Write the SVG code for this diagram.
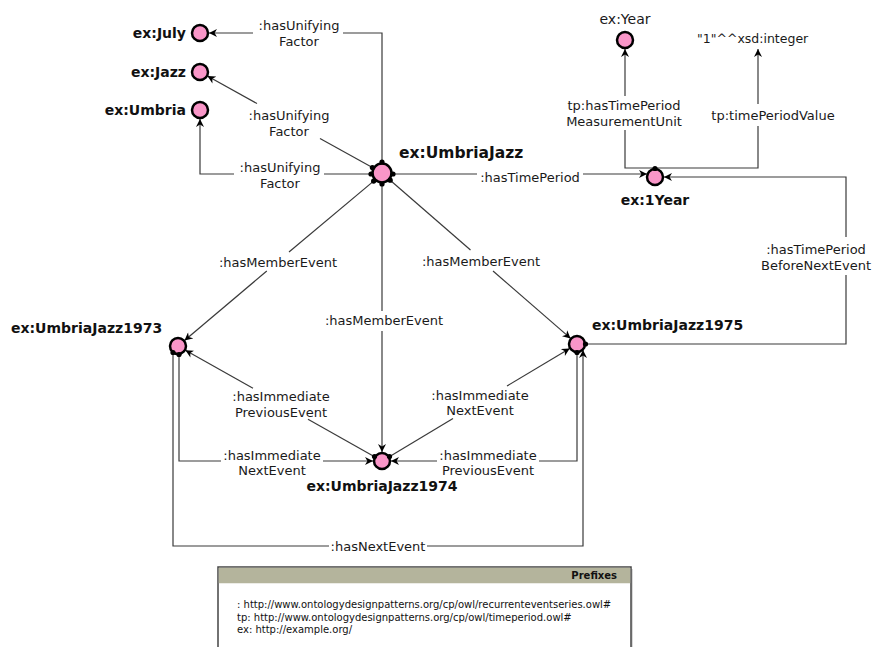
<svg xmlns="http://www.w3.org/2000/svg" width="875" height="647" viewBox="0 0 875 647">
<style>
.e{fill:none;stroke:#3a3a3a;stroke-width:1.2}
.a{marker-end:url(#arr)}
.n{fill:#f996c8;stroke:#000;stroke-width:2.5}
.d{fill:#000}
.l{font-family:"DejaVu Sans",sans-serif;font-size:13px;fill:#1a1a1a;text-anchor:middle}
.b{font-family:"DejaVu Sans",sans-serif;font-size:14px;font-weight:bold;fill:#111}
.t{font-family:"DejaVu Sans",sans-serif;font-size:10px;fill:#111}
</style>
<defs>
<marker id="arr" viewBox="0 0 10 10" refX="10" refY="5" markerWidth="9" markerHeight="8" markerUnits="userSpaceOnUse" orient="auto">
<path d="M0,0 L10,5 L0,10 L3,5 z" fill="#000"/>
</marker>
</defs>
<rect width="875" height="647" fill="#fff"/>

<g id="connectors">
<!-- UmbriaJazz -> July -->
<path class="e" d="M382,162 V33 H343"/>
<path class="e a" d="M253,33 H209"/>
<text class="l" x="299" y="30">:hasUnifying</text><text class="l" x="299" y="46">Factor</text>
<!-- UmbriaJazz -> Jazz -->
<path class="e" d="M372.4,167.6 L320,138.6"/>
<path class="e a" d="M257,103.6 L207.4,76.1"/>
<text class="l" x="289" y="120">:hasUnifying</text><text class="l" x="289" y="136">Factor</text>
<!-- UmbriaJazz -> Umbria -->
<path class="e" d="M371,174 H324"/>
<path class="e a" d="M234,174 H200 V119"/>
<text class="l" x="280" y="172">:hasUnifying</text><text class="l" x="280" y="188">Factor</text>
<!-- UmbriaJazz -> 1Year -->
<path class="e" d="M393,174 H477"/>
<path class="e a" d="M583,174 H647"/>
<text class="l" x="530" y="182">:hasTimePeriod</text>
<!-- 1Year -> Year -->
<path class="e" d="M655,168 H625 V130"/>
<path class="e a" d="M625,96 V49"/>
<text class="l" x="624" y="110">tp:hasTimePeriod</text><text class="l" x="624" y="126">MeasurementUnit</text>
<!-- 1Year -> "1" -->
<path class="e" d="M655,168 H758 V126"/>
<path class="e a" d="M758,104 V49"/>
<text class="l" x="773" y="120">tp:timePeriodValue</text>
<!-- 1975 -> 1Year -->
<path class="e" d="M585,344 H846 V275"/>
<path class="e a" d="M846,237 V177 H664"/>
<text class="l" x="816" y="254">:hasTimePeriod</text><text class="l" x="816" y="270">BeforeNextEvent</text>
<!-- UmbriaJazz -> 1973 -->
<path class="e" d="M373.6,181.1 L289,252"/>
<path class="e a" d="M266.8,271 L184.5,340.5"/>
<text class="l" x="278" y="267">:hasMemberEvent</text>
<!-- UmbriaJazz -> 1974 -->
<path class="e" d="M382,184 V311"/>
<path class="e a" d="M382,331 V452"/>
<text class="l" x="384" y="325">:hasMemberEvent</text>
<!-- UmbriaJazz -> 1975 -->
<path class="e" d="M390.2,180.2 L470.5,250"/>
<path class="e a" d="M493,271 L570.6,338.4"/>
<text class="l" x="481" y="266">:hasMemberEvent</text>
<!-- 1974 -> 1973 -->
<path class="e" d="M375,457.1 L308,419.3"/>
<path class="e a" d="M253,388.3 L185.4,350.2"/>
<text class="l" x="281" y="401">:hasImmediate</text><text class="l" x="281" y="417">PreviousEvent</text>
<!-- 1974 -> 1975 -->
<path class="e" d="M388.9,456.9 L453,418.4"/>
<path class="e a" d="M507,386 L569.7,348.4"/>
<text class="l" x="480" y="400">:hasImmediate</text><text class="l" x="480" y="415">NextEvent</text>
<!-- 1973 -> 1974 -->
<path class="e" d="M179,354 V461 H221"/>
<path class="e a" d="M323,461 H373"/>
<text class="l" x="272" y="460">:hasImmediate</text><text class="l" x="272" y="475">NextEvent</text>
<!-- 1975 -> 1974 -->
<path class="e" d="M577,352 V461 H539"/>
<path class="e a" d="M437,461 H391"/>
<text class="l" x="488" y="460">:hasImmediate</text><text class="l" x="488" y="475">PreviousEvent</text>
<!-- 1973 -> 1975 -->
<path class="e" d="M173,352 V546 H329"/>
<path class="e a" d="M427,546 H583 V350"/>
<text class="l" x="378" y="551">:hasNextEvent</text>
</g>

<g id="n-July"><circle class="n" cx="200" cy="33" r="8"/><text class="b" x="186" y="38" text-anchor="end">ex:July</text></g>
<g id="n-Jazz"><circle class="n" cx="200" cy="72" r="8"/><text class="b" x="186" y="77" text-anchor="end">ex:Jazz</text></g>
<g id="n-Umbria"><circle class="n" cx="200" cy="110" r="8"/><text class="b" x="186" y="115" text-anchor="end">ex:Umbria</text></g>
<g id="n-UmbriaJazz">
<circle class="n" cx="382" cy="173" r="9.5"/>
<circle class="d" cx="382" cy="162" r="2.6"/>
<circle class="d" cx="372.4" cy="167.6" r="2.6"/>
<circle class="d" cx="371" cy="174" r="2.6"/>
<circle class="d" cx="373.6" cy="181.1" r="2.6"/>
<circle class="d" cx="382" cy="184" r="2.6"/>
<circle class="d" cx="390.2" cy="180.2" r="2.6"/>
<circle class="d" cx="393" cy="174" r="2.6"/>
<text class="b" x="399" y="158" style="font-size:15.5px">ex:UmbriaJazz</text>
</g>
<g id="n-Year"><circle class="n" cx="625" cy="40" r="8"/><text class="l" x="625" y="24" style="font-size:14px">ex:Year</text></g>
<g id="n-literal"><text class="l" x="697" y="43" style="text-anchor:start;font-size:12.5px">"1"^^xsd:integer</text></g>
<g id="n-1Year">
<circle class="n" cx="655" cy="177" r="8"/>
<circle class="d" cx="655" cy="168.5" r="2.6"/>
<text class="b" x="655" y="205" text-anchor="middle">ex:1Year</text>
</g>
<g id="n-UmbriaJazz1973">
<circle class="n" cx="178" cy="346" r="8"/>
<circle class="d" cx="173" cy="352.5" r="2.6"/>
<circle class="d" cx="179" cy="354.5" r="2.6"/>
<text class="b" x="11" y="333">ex:UmbriaJazz1973</text>
</g>
<g id="n-UmbriaJazz1974">
<circle class="n" cx="382" cy="461" r="8"/>
<circle class="d" cx="374.5" cy="456.5" r="2.6"/>
<circle class="d" cx="389.5" cy="456.5" r="2.6"/>
<text class="b" x="382" y="491" text-anchor="middle">ex:UmbriaJazz1974</text>
</g>
<g id="n-UmbriaJazz1975">
<circle class="n" cx="577" cy="344" r="8"/>
<circle class="d" cx="585.5" cy="344" r="2.6"/>
<circle class="d" cx="577" cy="352.5" r="2.6"/>
<text class="b" x="592" y="330">ex:UmbriaJazz1975</text>
</g>

<g id="prefixes">
<rect x="220" y="569" width="413" height="90" fill="#d8d8d8"/>
<rect x="218" y="567" width="413" height="90" fill="#fff" stroke="#444" stroke-width="1.5"/>
<rect x="218.75" y="567.75" width="411.5" height="15.5" fill="#b4b49c"/>
<text class="t" x="617" y="579" text-anchor="end" style="font-weight:bold">Prefixes</text>
<text class="t" x="237" y="608">: http://www.ontologydesignpatterns.org/cp/owl/recurrenteventseries.owl#</text>
<text class="t" x="237" y="621">tp: http://www.ontologydesignpatterns.org/cp/owl/timeperiod.owl#</text>
<text class="t" x="237" y="633">ex: http://example.org/</text>
</g>
</svg>
